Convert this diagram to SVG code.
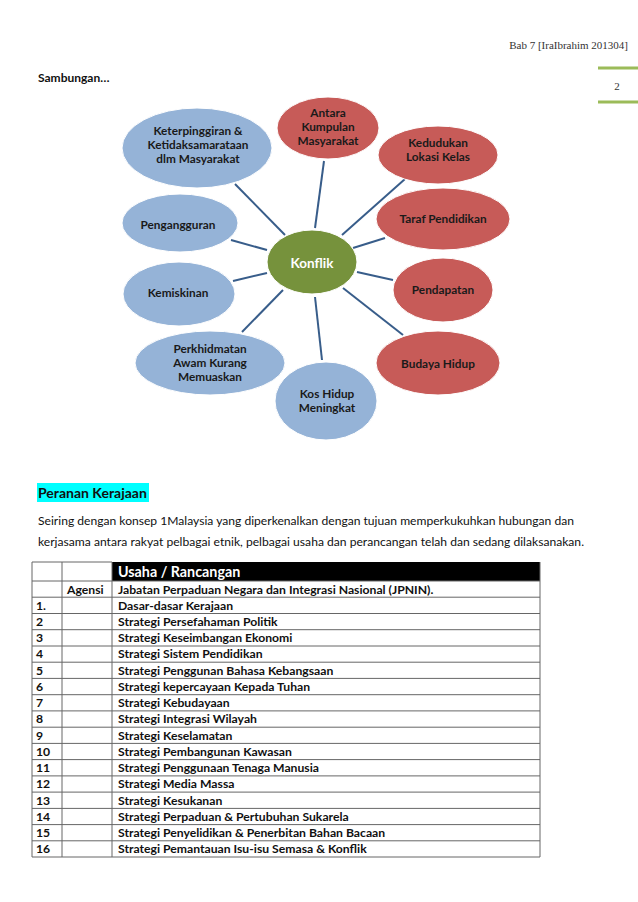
<svg xmlns="http://www.w3.org/2000/svg" width="638" height="902" viewBox="0 0 638 902">
<style>
.hdr{font-family:"Liberation Serif",serif;font-size:11px;fill:#333}
.b{font-family:Lato,"Liberation Sans",sans-serif;font-weight:bold;font-size:12px;fill:#111}
.n{font-family:Lato,"Liberation Sans",sans-serif;font-weight:bold;font-size:11.8px;fill:#1a1a1a;text-anchor:middle}
.p{font-family:Lato,"Liberation Sans",sans-serif;font-size:12px;fill:#111}
.blue{fill:#95b3d7;stroke:#ffffff;stroke-width:1}
.red{fill:#c75b58;stroke:#ffffff;stroke-width:1}
.green{fill:#76923c;stroke:#ffffff;stroke-width:1}
.con line{stroke:#385d8a;stroke-width:2}
.grid line{stroke:#666;stroke-width:1}
.t{font-family:Lato,"Liberation Sans",sans-serif;font-weight:bold;font-size:12.2px;fill:#111}
</style>
<rect width="638" height="902" fill="#ffffff"/>
<g id="header">
<text class="hdr" x="628" y="49" text-anchor="end">Bab 7 [IraIbrahim 201304]</text>
<line x1="598" y1="68" x2="638" y2="68" stroke="#9bbb59" stroke-width="3"/>
<line x1="598" y1="102" x2="638" y2="102" stroke="#9bbb59" stroke-width="3"/>
<text class="hdr" x="617" y="90" text-anchor="middle">2</text>
</g>
<text class="b" x="38" y="82">Sambungan…</text>
<g id="connectors" class="con">
<line x1="235" y1="184" x2="285" y2="235"/>
<line x1="324" y1="161" x2="315" y2="228"/>
<line x1="405" y1="179" x2="342" y2="235"/>
<line x1="231" y1="240" x2="267" y2="250"/>
<line x1="385" y1="238" x2="353" y2="248"/>
<line x1="233" y1="281" x2="267" y2="273"/>
<line x1="357" y1="272" x2="393" y2="280"/>
<line x1="242" y1="332" x2="283" y2="290"/>
<line x1="315" y1="297" x2="322" y2="360"/>
<line x1="343" y1="288" x2="403" y2="335"/>
</g>
<g id="n-antara"><ellipse class="red" cx="328" cy="128" rx="51" ry="31"/>
<text class="n" x="328" y="117">Antara</text><text class="n" x="328" y="131">Kumpulan</text><text class="n" x="328" y="145">Masyarakat</text></g>
<g id="n-keterpinggiran"><ellipse class="blue" cx="197" cy="148" rx="75" ry="40"/>
<text class="n" x="198" y="135">Keterpinggiran &amp;</text><text class="n" x="198" y="149">Ketidaksamarataan</text><text class="n" x="198" y="163">dlm Masyarakat</text></g>
<g id="n-kedudukan"><ellipse class="red" cx="438" cy="155" rx="60" ry="29"/>
<text class="n" x="438" y="147">Kedudukan</text><text class="n" x="438" y="161">Lokasi Kelas</text></g>
<g id="n-pengangguran"><ellipse class="blue" cx="180" cy="223" rx="58" ry="29"/>
<text class="n" x="178" y="229">Pengangguran</text></g>
<g id="n-taraf"><ellipse class="red" cx="443" cy="219" rx="67" ry="31"/>
<text class="n" x="443" y="223">Taraf Pendidikan</text></g>
<g id="n-konflik"><ellipse class="green" cx="312" cy="262" rx="45" ry="32"/>
<text class="n" x="312" y="268" style="fill:#fff;font-size:13.5px">Konflik</text></g>
<g id="n-kemiskinan"><ellipse class="blue" cx="179" cy="294" rx="56" ry="32"/>
<text class="n" x="178" y="297">Kemiskinan</text></g>
<g id="n-pendapatan"><ellipse class="red" cx="443" cy="290" rx="50" ry="32"/>
<text class="n" x="443" y="294">Pendapatan</text></g>
<g id="n-perkhidmatan"><ellipse class="blue" cx="210" cy="363" rx="75" ry="32"/>
<text class="n" x="210" y="353">Perkhidmatan</text><text class="n" x="210" y="367">Awam Kurang</text><text class="n" x="210" y="381">Memuaskan</text></g>
<g id="n-budaya"><ellipse class="red" cx="438" cy="363" rx="62" ry="32"/>
<text class="n" x="438" y="368">Budaya Hidup</text></g>
<g id="n-kos"><ellipse class="blue" cx="326" cy="401" rx="51" ry="39"/>
<text class="n" x="327" y="398">Kos Hidup</text><text class="n" x="327" y="412">Meningkat</text></g>
<g id="section">
<rect x="37" y="483" width="112" height="19" fill="#00ffff"/>
<text x="38" y="498" style="font-family:Lato,'Liberation Sans',sans-serif;font-weight:bold;font-size:14px;fill:#111">Peranan Kerajaan</text>
<text class="p" x="38" y="525" textLength="536" lengthAdjust="spacingAndGlyphs">Seiring dengan konsep 1Malaysia yang diperkenalkan dengan tujuan memperkukuhkan hubungan dan</text>
<text class="p" x="38" y="546" textLength="546" lengthAdjust="spacingAndGlyphs">kerjasama antara rakyat pelbagai etnik, pelbagai usaha dan perancangan telah dan sedang dilaksanakan.</text>
</g>
<g id="table">
<rect x="112" y="562" width="428" height="19" fill="#000"/>
<g class="grid">
<line x1="32" y1="562" x2="112" y2="562"/>
<line x1="32" y1="581" x2="540" y2="581"/>
<line x1="32" y1="597.2" x2="540" y2="597.2"/>
<line x1="32" y1="613.5" x2="540" y2="613.5"/>
<line x1="32" y1="629.7" x2="540" y2="629.7"/>
<line x1="32" y1="646" x2="540" y2="646"/>
<line x1="32" y1="662.2" x2="540" y2="662.2"/>
<line x1="32" y1="678.4" x2="540" y2="678.4"/>
<line x1="32" y1="694.7" x2="540" y2="694.7"/>
<line x1="32" y1="710.9" x2="540" y2="710.9"/>
<line x1="32" y1="727.2" x2="540" y2="727.2"/>
<line x1="32" y1="743.4" x2="540" y2="743.4"/>
<line x1="32" y1="759.6" x2="540" y2="759.6"/>
<line x1="32" y1="775.9" x2="540" y2="775.9"/>
<line x1="32" y1="792.1" x2="540" y2="792.1"/>
<line x1="32" y1="808.4" x2="540" y2="808.4"/>
<line x1="32" y1="824.6" x2="540" y2="824.6"/>
<line x1="32" y1="840.8" x2="540" y2="840.8"/>
<line x1="32" y1="857" x2="540" y2="857"/>
<line x1="32" y1="562" x2="32" y2="857"/>
<line x1="62" y1="562" x2="62" y2="857"/>
<line x1="112" y1="562" x2="112" y2="857"/>
<line x1="540" y1="562" x2="540" y2="857"/>
</g>
<text x="118" y="577" style="font-family:Lato,'Liberation Sans',sans-serif;font-weight:bold;font-size:14.3px;fill:#fff">Usaha / Rancangan</text>
<text class="t" x="67" y="593.5">Agensi</text>
<text class="t" x="118" y="593.5">Jabatan Perpaduan Negara dan Integrasi Nasional (JPNIN).</text>
<text class="t" x="36" y="609.7">1.</text><text class="t" x="118" y="609.7">Dasar-dasar Kerajaan</text>
<text class="t" x="36" y="626">2</text><text class="t" x="118" y="626">Strategi Persefahaman Politik</text>
<text class="t" x="36" y="642.2">3</text><text class="t" x="118" y="642.2">Strategi Keseimbangan Ekonomi</text>
<text class="t" x="36" y="658.4">4</text><text class="t" x="118" y="658.4">Strategi Sistem Pendidikan</text>
<text class="t" x="36" y="674.7">5</text><text class="t" x="118" y="674.7">Strategi Penggunan Bahasa Kebangsaan</text>
<text class="t" x="36" y="690.9">6</text><text class="t" x="118" y="690.9">Strategi kepercayaan Kepada Tuhan</text>
<text class="t" x="36" y="707.2">7</text><text class="t" x="118" y="707.2">Strategi Kebudayaan</text>
<text class="t" x="36" y="723.4">8</text><text class="t" x="118" y="723.4">Strategi Integrasi Wilayah</text>
<text class="t" x="36" y="739.6">9</text><text class="t" x="118" y="739.6">Strategi Keselamatan</text>
<text class="t" x="36" y="755.9">10</text><text class="t" x="118" y="755.9">Strategi Pembangunan Kawasan</text>
<text class="t" x="36" y="772.1">11</text><text class="t" x="118" y="772.1">Strategi Penggunaan Tenaga Manusia</text>
<text class="t" x="36" y="788.4">12</text><text class="t" x="118" y="788.4">Strategi Media Massa</text>
<text class="t" x="36" y="804.6">13</text><text class="t" x="118" y="804.6">Strategi Kesukanan</text>
<text class="t" x="36" y="820.8">14</text><text class="t" x="118" y="820.8">Strategi Perpaduan &amp; Pertubuhan Sukarela</text>
<text class="t" x="36" y="837.1">15</text><text class="t" x="118" y="837.1">Strategi Penyelidikan &amp; Penerbitan Bahan Bacaan</text>
<text class="t" x="36" y="853.3">16</text><text class="t" x="118" y="853.3">Strategi Pemantauan Isu-isu Semasa &amp; Konflik</text>
</g>
</svg>
